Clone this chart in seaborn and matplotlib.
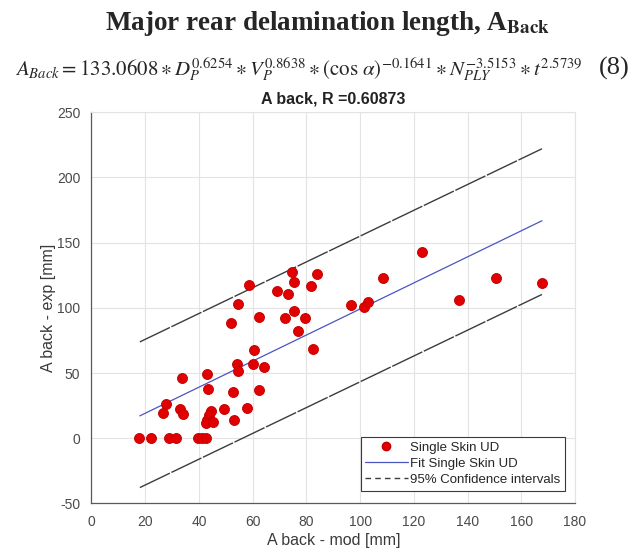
import matplotlib
matplotlib.use("Agg")
import matplotlib.pyplot as plt
from matplotlib.lines import Line2D
import seaborn as sns
import pandas as pd

# Model-predicted vs. measured rear delamination length (mm)
a_back_mod = [17.8, 22.0, 29.0, 31.5, 39.8, 41.0, 42.6, 33.8, 42.9, 43.5,
              27.7, 26.5, 33.0, 34.2, 44.4, 43.8, 43.1, 42.6, 45.1, 49.5,
              53.1, 52.8, 58.0, 62.5, 54.3, 54.7, 60.3, 64.2, 60.4, 82.3,
              77.0, 58.5, 69.1, 54.4, 51.8, 62.4, 74.6, 83.9, 75.5, 81.6,
              73.3, 75.4, 72.1, 79.4, 108.5, 96.5, 101.6, 103.1, 123.2, 150.5,
              136.8, 167.7]
a_back_exp = [0.0, 0.0, 0.0, 0.0, 0.0, 0.0, 0.0, 46.4, 49.2, 37.5,
              26.1, 19.2, 22.3, 18.7, 21.2, 17.9, 14.1, 11.6, 12.4, 22.3,
              14.1, 35.3, 23.5, 37.3, 56.9, 51.5, 56.9, 54.8, 67.6, 68.4,
              82.5, 117.7, 112.7, 103.2, 88.4, 92.7, 127.3, 126.1, 120.2, 116.6,
              110.8, 97.6, 92.2, 92.2, 123.0, 102.4, 100.6, 104.4, 143.1, 123.0,
              106.3, 118.9]

# Fitted line and 95% confidence bounds (end points)
fit_x = [18.0, 167.7]
fit_y = [17.2, 166.8]
ci_upper = [73.9, 222.0]
ci_lower = [-37.8, 110.3]

x_ticks = [0, 20, 40, 60, 80, 100, 120, 140, 160, 180]
y_ticks = [-50, 0, 50, 100, 150, 200, 250]

sns.set_style("white")
plt.rcParams["font.family"] = ["Liberation Sans", "DejaVu Sans"]
plt.rcParams["mathtext.fontset"] = "stix"
plt.rcParams["axes.unicode_minus"] = False

fig = plt.figure(figsize=(6.43, 5.55), dpi=100)
ax = fig.add_axes([0.1423, 0.0928, 0.752, 0.705])

pts = pd.DataFrame({"mod": a_back_mod, "exp": a_back_exp})
lines = pd.DataFrame({"x": fit_x * 3,
                      "y": fit_y + ci_upper + ci_lower,
                      "kind": ["fit"] * 2 + ["up"] * 2 + ["lo"] * 2})

axis_col = "#5a5a5a"
grid_col = "#e3e3e3"
ci_col = "#3c3c3c"
fit_col = "#4a55c0"
dot_col = "#e10000"

sns.lineplot(data=lines[lines.kind == "up"], x="x", y="y", ax=ax,
             color=ci_col, lw=1.0, linestyle=(0, (24, 1.2)))
sns.lineplot(data=lines[lines.kind == "lo"], x="x", y="y", ax=ax,
             color=ci_col, lw=1.0, linestyle=(0, (24, 1.2)))
sns.lineplot(data=lines[lines.kind == "fit"], x="x", y="y", ax=ax,
             color=fit_col, lw=0.9)
sns.scatterplot(data=pts, x="mod", y="exp", ax=ax, color=dot_col, s=52,
                edgecolor="#c00000", linewidth=0.6, zorder=5)

ax.set_xlim(0, 180)
ax.set_ylim(-50, 250)
ax.set_xticks(x_ticks)
ax.set_yticks(y_ticks)
ax.grid(True, color=grid_col, lw=0.8)
ax.set_axisbelow(True)
for side in ("left", "bottom"):
    ax.spines[side].set_color(axis_col)
    ax.spines[side].set_linewidth(0.9)
for side in ("top", "right"):
    ax.spines[side].set_color(grid_col)
    ax.spines[side].set_linewidth(0.8)
ax.tick_params(direction="in", length=4, width=0.8, colors=axis_col,
               labelsize=10, labelcolor="#4a4a4a", pad=8)

ax.set_xlabel("A back - mod [mm]", fontsize=11.5, color="#3a3a3a", labelpad=3)
ax.set_ylabel("A back - exp [mm]", fontsize=11.5, color="#3a3a3a", labelpad=1)
ax.set_title("A back, R =0.60873", fontsize=11.5, fontweight="bold",
             color="#222222", pad=6)

handles = [
    Line2D([], [], marker="o", ls="none", color=dot_col, markersize=6,
           markeredgecolor="#c00000"),
    Line2D([], [], color=fit_col, lw=0.9),
    Line2D([], [], color=ci_col, lw=1.0, ls=(0, (4, 3))),
]
labels = ["Single Skin UD", "Fit Single Skin UD", "95% Confidence intervals"]
leg = ax.legend(handles, labels, loc="lower right", fontsize=9.5,
                frameon=True, fancybox=False, framealpha=1,
                edgecolor="#3a3a3a", borderpad=0.35, labelspacing=0.3,
                handlelength=3.2, handletextpad=0.2,
                bbox_to_anchor=(0.993, 0.016))
leg.get_frame().set_linewidth(0.8)

fig.text(0.51, 0.958, r"Major rear delamination length, A$_{\mathbf{Back}}$",
         ha="center", va="center", fontsize=19.5, fontweight="bold",
         family=["Liberation Serif", "DejaVu Serif"])
fig.text(0.465, 0.875,
         r"$A_{Back} = 133.0608 \ast D_P^{0.6254} \ast V_P^{0.8638} \ast "
         r"(\cos\,\alpha)^{-0.1641} \ast N_{PLY}^{-3.5153} \ast t^{2.5739}$",
         ha="center", va="center", fontsize=15)
fig.text(0.955, 0.877, "(8)", ha="center", va="center", fontsize=19,
         family=["Liberation Serif", "DejaVu Serif"])

fig.savefig("out.png", dpi=100)
